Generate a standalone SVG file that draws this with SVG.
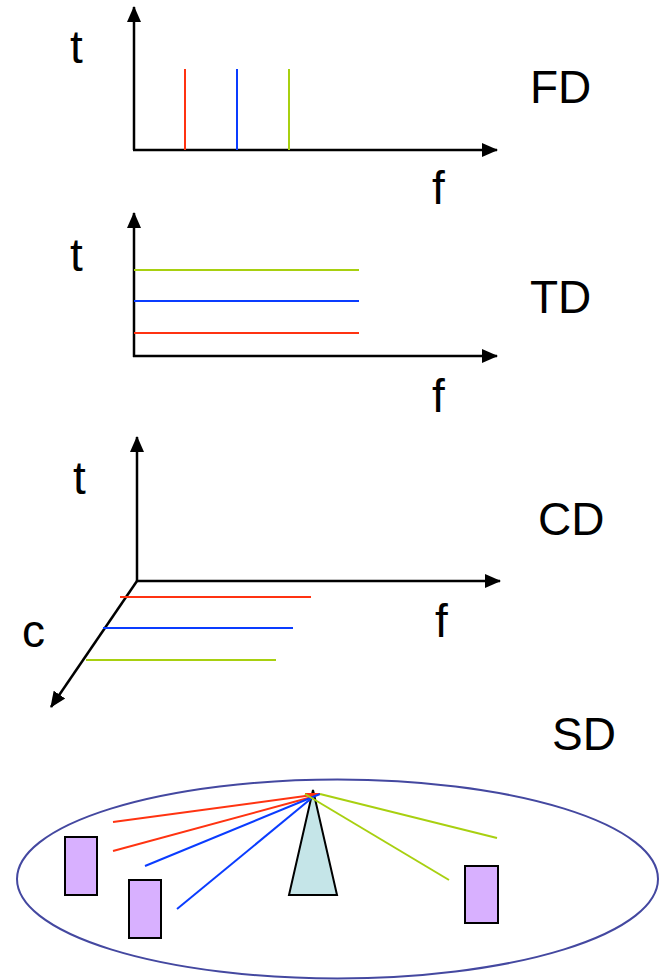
<svg xmlns="http://www.w3.org/2000/svg" width="669" height="980" viewBox="0 0 669 980">
<style>
text{font-family:"Liberation Sans",Arial,sans-serif;font-size:46px;fill:#000}
.ax{stroke:#000;stroke-width:2.5;fill:none}
.r{stroke:#ff3311;stroke-width:2;fill:none}
.b{stroke:#0a3cff;stroke-width:2;fill:none}
.g{stroke:#a8d010;stroke-width:2;fill:none}
.box{fill:#d8b0ff;stroke:#000;stroke-width:2}
</style>
<defs>
<marker id="ah" markerUnits="userSpaceOnUse" markerWidth="16" markerHeight="16" viewBox="0 0 16 16" refX="15" refY="8" orient="auto">
<path d="M0,1 L16,8 L0,15 Z" fill="#000"/>
</marker>
</defs>
<g id="fd">
<line class="ax" x1="134" y1="150" x2="134" y2="7" marker-end="url(#ah)"/>
<line class="ax" x1="133" y1="150" x2="497" y2="150" marker-end="url(#ah)"/>
<line class="r" x1="185" y1="69" x2="185" y2="150"/>
<line class="b" x1="237" y1="69" x2="237" y2="150"/>
<line class="g" x1="289" y1="69" x2="289" y2="150"/>
<text x="70" y="63">t</text>
<text x="432" y="204">f</text>
<text x="530" y="103">FD</text>
</g>
<g id="td">
<line class="ax" x1="134" y1="357" x2="134" y2="213" marker-end="url(#ah)"/>
<line class="ax" x1="133" y1="356" x2="497" y2="356" marker-end="url(#ah)"/>
<line class="g" x1="134" y1="270" x2="359" y2="270"/>
<line class="b" x1="134" y1="301" x2="359" y2="301"/>
<line class="r" x1="134" y1="333" x2="359" y2="333"/>
<text x="70" y="271">t</text>
<text x="432" y="412">f</text>
<text x="530" y="313">TD</text>
</g>
<g id="cd">
<line class="ax" x1="137" y1="581" x2="137" y2="437" marker-end="url(#ah)"/>
<line class="ax" x1="136" y1="581" x2="500" y2="581" marker-end="url(#ah)"/>
<line class="ax" x1="137" y1="581" x2="51" y2="707" marker-end="url(#ah)"/>
<line class="r" x1="120" y1="597" x2="311" y2="597"/>
<line class="b" x1="103" y1="628" x2="293" y2="628"/>
<line class="g" x1="86" y1="660" x2="276" y2="660"/>
<text x="73" y="494">t</text>
<text x="22" y="647">c</text>
<text x="435" y="637">f</text>
<text x="538" y="535">CD</text>
</g>
<g id="sd">
<ellipse cx="337.5" cy="879" rx="320.5" ry="99.5" fill="none" stroke="#4448a0" stroke-width="2"/>
<rect class="box" x="65" y="837" width="32" height="58"/>
<rect class="box" x="129" y="880" width="32" height="58"/>
<rect class="box" x="465" y="866" width="33" height="57"/>
<polygon points="313,790 337,895 289,895" fill="#c5e5e8" stroke="#000" stroke-width="2" stroke-linejoin="miter"/>
<line class="r" x1="113" y1="822" x2="320" y2="794"/>
<line class="r" x1="305" y1="794" x2="320" y2="794"/>
<line class="r" x1="113" y1="851" x2="312" y2="797"/>
<line class="b" x1="145" y1="866" x2="320" y2="794"/>
<line class="b" x1="177" y1="909" x2="313" y2="797"/>
<line class="g" x1="497" y1="838" x2="320" y2="794"/>
<line class="g" x1="449" y1="880" x2="305" y2="794"/>
<text x="552" y="750">SD</text>
</g>
</svg>
